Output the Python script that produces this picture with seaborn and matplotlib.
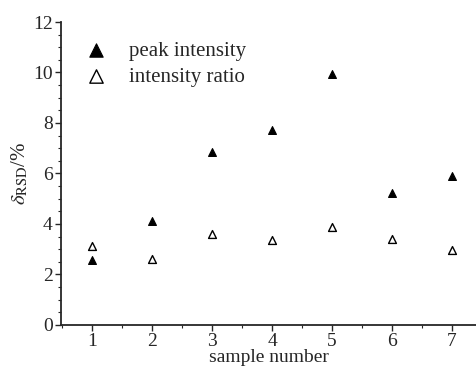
import numpy as np
import pandas as pd
import matplotlib
matplotlib.use("Agg")
import matplotlib.pyplot as plt
import seaborn as sns
from matplotlib.ticker import MultipleLocator

samples = [1, 2, 3, 4, 5, 6, 7]
peak_intensity = [2.57, 4.10, 6.85, 7.72, 9.94, 5.23, 5.90]
intensity_ratio = [3.13, 2.61, 3.60, 3.37, 3.88, 3.40, 2.97]

sns.set_style("ticks")
plt.rcParams.update({
    "font.family": ["Liberation Serif", "DejaVu Serif"],
    "mathtext.fontset": "stix",
    "xtick.direction": "out",
    "ytick.direction": "out",
    "axes.linewidth": 1.3,
})

fig = plt.figure(figsize=(4.77, 3.73), dpi=100)
ax = fig.add_axes([0.128, 0.129, 0.872, 0.812])

sns.scatterplot(x=samples, y=peak_intensity, ax=ax, marker="^", s=32,
                color="black", edgecolor="black", linewidth=0.8,
                label="peak intensity")
sns.scatterplot(x=samples, y=intensity_ratio, ax=ax, marker="^", s=32,
                facecolor="white", edgecolor="black", linewidth=1.0,
                label="intensity ratio")

ax.set_xlim(0.48, 7.42)
ax.set_ylim(0, 12)
ax.xaxis.set_major_locator(MultipleLocator(1))
ax.xaxis.set_minor_locator(MultipleLocator(0.5))
ax.yaxis.set_major_locator(MultipleLocator(2))
ax.yaxis.set_minor_locator(MultipleLocator(0.5))
ax.tick_params(which="major", length=4, width=1, labelsize=14, pad=2)
ax.tick_params(which="minor", length=2.5, width=0.8)
sns.despine(ax=ax)

ax.set_xlabel("sample number", fontsize=14, labelpad=-1)
ax.set_ylabel(r"$\delta_{\mathrm{RSD}}$/%", fontsize=15, labelpad=2)

leg = ax.legend(loc="upper left", frameon=False, fontsize=15,
                handletextpad=0.75, borderaxespad=0.3, labelspacing=0.3,
                markerscale=1.7, handlelength=1.6,
                bbox_to_anchor=(0.01, 0.985))

fig.savefig("out.png", dpi=100)
